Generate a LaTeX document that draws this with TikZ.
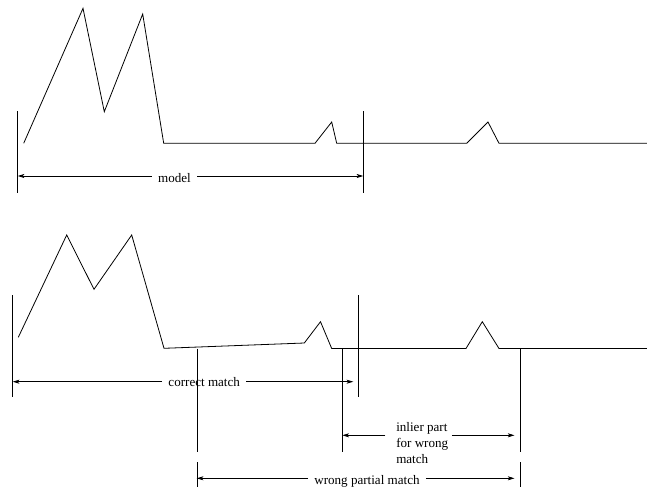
\documentclass[tikz,border=0pt]{standalone}
\usepackage{fontspec}
\setmainfont{Liberation Serif}
\usetikzlibrary{arrows.meta}
\begin{document}
\begin{tikzpicture}[x=0.75pt,y=-0.75pt,
  sig/.style={line width=0.6pt, line join=miter},
  bar/.style={line width=0.6pt},
  dim/.style={line width=0.6pt,-{Stealth[length=5pt,width=3pt,inset=1.2pt]}},
  lbl/.style={font=\fontsize{9.8}{11.6}\selectfont, inner xsep=4.5pt, inner ysep=0pt, anchor=base}]
\useasboundingbox (0,0) rectangle (647,487);
% ---------- top signal (model) ----------
\draw[sig] (23.7,143.3) -- (83,8.3) -- (104.3,111.7) -- (142.7,14) -- (163.7,143.3)
  -- (315,143.3) -- (331.7,122) -- (336.7,143.3) -- (466.7,143.3) -- (488,122)
  -- (499,143.3) -- (647,143.3);
\draw[bar] (17.7,111) -- (17.7,192.5);
\draw[bar] (363.3,111) -- (363.3,192.5);
\coordinate (mL) at (17.7,176);
\coordinate (mR) at (363.3,176);
\node[lbl] (m) at (174.5,182.5) {model};
\draw[dim] (m.west |- mL) -- (mL);
\draw[dim] (m.east |- mR) -- (mR);
% ---------- bottom signal ----------
\draw[sig] (18.3,337.3) -- (66.7,235) -- (94,289.3) -- (131.7,235) -- (164,348.3)
  -- (304.3,343) -- (320.5,321.7) -- (331.7,348.5) -- (466,348.5) -- (482.3,321.7)
  -- (499,348.5) -- (647,348.5);
\draw[bar] (12.7,295) -- (12.7,396.7);
\draw[bar] (197,348.5) -- (197,452);
\draw[bar] (197,462) -- (197,487);
\draw[bar] (342.3,348.5) -- (342.3,452);
\draw[bar] (358.3,295) -- (358.3,397.3);
\draw[bar] (520.3,348.5) -- (520.3,452);
\draw[bar] (520.3,462) -- (520.3,487);
% correct match
\coordinate (cL) at (12.7,381.7);
\coordinate (cR) at (353.3,381.7);
\node[lbl] (c) at (204.2,386.7) {correct match};
\draw[dim] (c.west |- cL) -- (cL);
\draw[dim] (c.east |- cR) -- (cR);
% inlier part for wrong match
\coordinate (iL) at (342.3,435.3);
\coordinate (iR) at (514.5,435.3);
\node[font=\fontsize{9.8}{11.6}\selectfont, align=left, inner sep=0pt, anchor=north west] (ip) at (396,421.7) {inlier part\\[0.6pt]for wrong\\[0.6pt]match};
\draw[dim] ([xshift=-8pt]ip.west |- iL) -- (iL);
\draw[dim] ([xshift=2.5pt]ip.east |- iR) -- (iR);
% wrong partial match
\coordinate (wL) at (196.7,478.3);
\coordinate (wR) at (514.5,478.3);
\node[lbl] (w) at (367,484) {wrong partial match};
\draw[dim] (w.west |- wL) -- (wL);
\draw[dim] (w.east |- wR) -- (wR);
\end{tikzpicture}
\end{document}
